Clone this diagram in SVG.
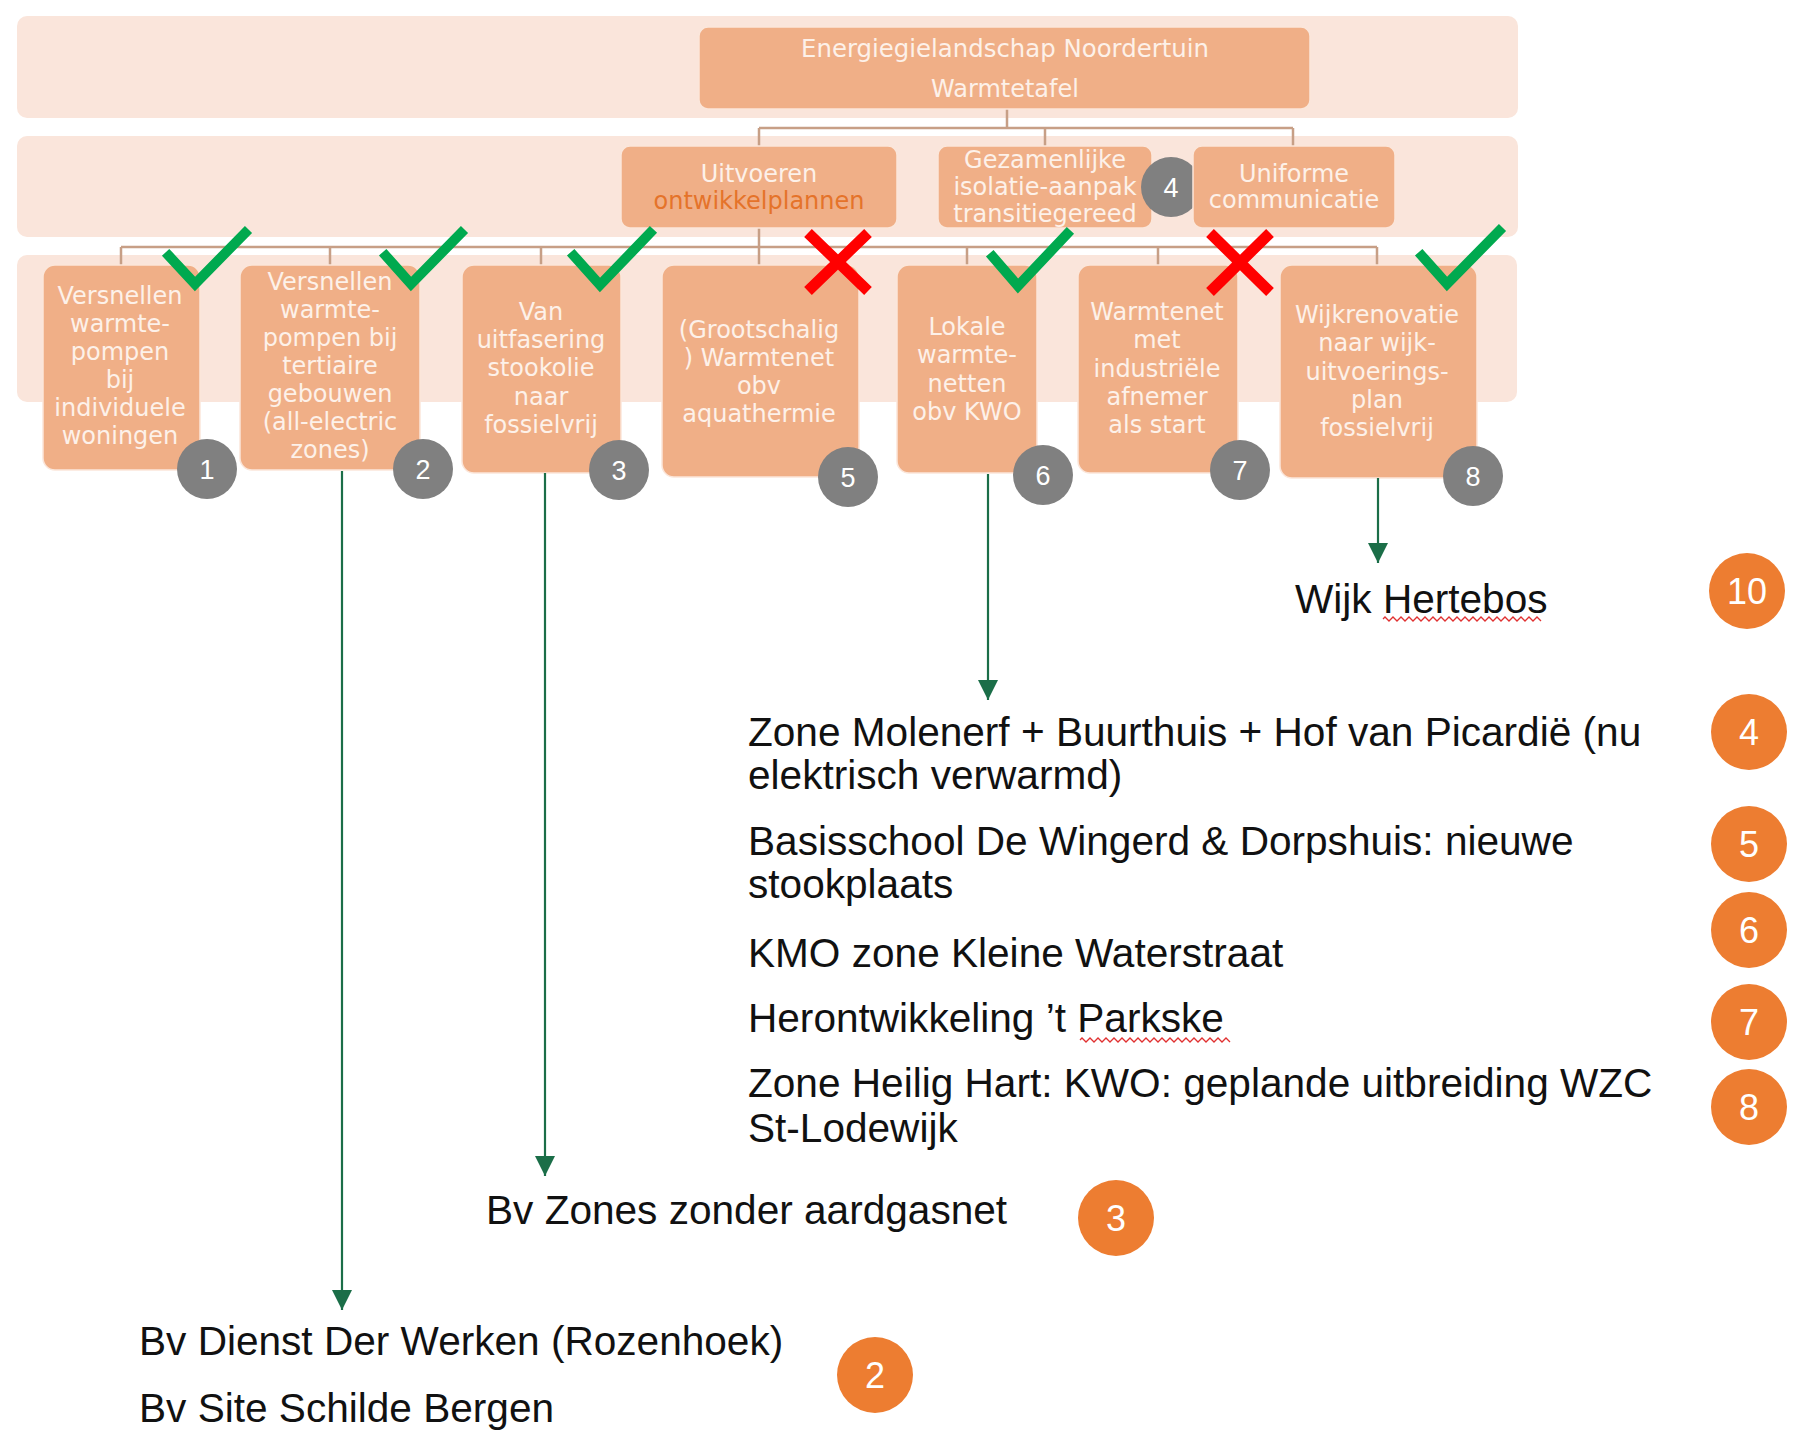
<svg xmlns="http://www.w3.org/2000/svg" width="1796" height="1433" viewBox="0 0 1796 1433">
<defs>
<style>
.band{fill:#FAE5DB}
.box{fill:#F0AF87;stroke:#FBE6DA;stroke-width:1.5}
.bt{font-family:"DejaVu Sans",sans-serif;font-size:24px;fill:#FDF1E9;text-anchor:middle}
.or{fill:#E5732A}
.tree{fill:none;stroke:#C79F86;stroke-width:2.5}
.gb{fill:#808080}
.gbt{font-family:"Liberation Sans",Arial,sans-serif;font-size:27px;fill:#FFFFFF;text-anchor:middle}
.ob{fill:#ED7D31}
.obt{font-family:"Liberation Sans",Arial,sans-serif;font-size:36px;fill:#FFFFFF;text-anchor:middle}
.chk{fill:none;stroke:#00A94F;stroke-width:10;stroke-linecap:square;stroke-linejoin:miter}
.x{fill:none;stroke:#FF0000;stroke-width:11}
.arr{fill:none;stroke:#1B6E48;stroke-width:2.2;marker-end:url(#ah)}
.lt{font-family:"Liberation Sans",Arial,sans-serif;font-size:40.6px;fill:#111111}
.wavy{fill:none;stroke:#E03030;stroke-width:1.3}
</style>
<marker id="ah" markerUnits="userSpaceOnUse" markerWidth="22" markerHeight="22" viewBox="0 0 22 22" refX="20" refY="11" orient="auto">
<path d="M0,1 L20,11 L0,21 Z" fill="#1B6E48"/>
</marker>
</defs>

<g id="bands">
<rect class="band" x="17" y="16" width="1501" height="102" rx="10"/>
<rect class="band" x="17" y="136" width="1501" height="101" rx="10"/>
<rect class="band" x="17" y="255" width="1500" height="147" rx="10"/>
</g>

<g id="tree">
<path class="tree" d="M1007,109 V128 M759,128 H1293 M759,128 V146 M1045,128 V146 M1293,128 V146"/>
<path class="tree" d="M759,228 V247 M121,247 H1377 M121,247 V265 M330,247 V265 M541,247 V265 M759,247 V265 M967,247 V265 M1158,247 V265 M1377,247 V265"/>
</g>

<g id="node-root">
<rect class="box" x="699" y="27" width="611" height="82" rx="9"/>
<text class="bt" x="1005" y="57" style="font-size:24.4px">Energiegielandschap Noordertuin</text>
<text class="bt" x="1005" y="97">Warmtetafel</text>
</g>

<g id="node-uitvoeren">
<rect class="box" x="621" y="146" width="276" height="82" rx="9"/>
<text class="bt" x="759" y="182">Uitvoeren</text>
<text class="bt or" x="759" y="209">ontwikkelplannen</text>
</g>

<g id="node-gezamenlijke">
<rect class="box" x="938" y="146" width="214" height="82" rx="9"/>
<text class="bt" x="1045" y="168">Gezamenlijke</text>
<text class="bt" x="1045" y="195">isolatie-aanpak</text>
<text class="bt" x="1045" y="222">transitiegereed</text>
<circle class="gb" cx="1171" cy="187" r="30"/>
<text class="gbt" x="1171" y="197">4</text>
</g>

<g id="node-uniforme">
<rect class="box" x="1193" y="146" width="202" height="82" rx="9"/>
<text class="bt" x="1294" y="182">Uniforme</text>
<text class="bt" x="1294" y="208">communicatie</text>
</g>

<g id="node-1">
<rect class="box" x="43" y="265" width="157" height="205" rx="12"/>
<text class="bt" x="120" y="304">Versnellen</text>
<text class="bt" x="120" y="332">warmte-</text>
<text class="bt" x="120" y="360">pompen</text>
<text class="bt" x="120" y="388">bij</text>
<text class="bt" x="120" y="416">individuele</text>
<text class="bt" x="120" y="444">woningen</text>
<circle class="gb" cx="207" cy="469" r="30"/>
<text class="gbt" x="207" y="479">1</text>
<polyline class="chk" points="169,256 195,284 245,233"/>
</g>

<g id="node-2">
<rect class="box" x="240" y="265" width="180" height="205" rx="12"/>
<text class="bt" x="330" y="290">Versnellen</text>
<text class="bt" x="330" y="318">warmte-</text>
<text class="bt" x="330" y="346">pompen bij</text>
<text class="bt" x="330" y="374">tertiaire</text>
<text class="bt" x="330" y="402">gebouwen</text>
<text class="bt" x="330" y="430">(all-electric</text>
<text class="bt" x="330" y="458">zones)</text>
<circle class="gb" cx="423" cy="469" r="30"/>
<text class="gbt" x="423" y="479">2</text>
<polyline class="chk" points="386,256 411,284 461,233"/>
</g>

<g id="node-3">
<rect class="box" x="462" y="265" width="159" height="208" rx="12"/>
<text class="bt" x="541" y="320">Van</text>
<text class="bt" x="541" y="348">uitfasering</text>
<text class="bt" x="541" y="376">stookolie</text>
<text class="bt" x="541" y="405">naar</text>
<text class="bt" x="541" y="433">fossielvrij</text>
<circle class="gb" cx="619" cy="470" r="30"/>
<text class="gbt" x="619" y="480">3</text>
<polyline class="chk" points="574,256 600,285 650,233"/>
</g>

<g id="node-5">
<rect class="box" x="662" y="265" width="197" height="212" rx="12"/>
<text class="bt" x="759" y="338">(Grootschalig</text>
<text class="bt" x="759" y="366">) Warmtenet</text>
<text class="bt" x="759" y="394">obv</text>
<text class="bt" x="759" y="422">aquathermie</text>
<circle class="gb" cx="848" cy="477" r="30"/>
<text class="gbt" x="848" y="487">5</text>
<path class="x" d="M808,233 L868,291 M868,233 L808,291"/>
</g>

<g id="node-6">
<rect class="box" x="897" y="265" width="140" height="208" rx="12"/>
<text class="bt" x="967" y="335">Lokale</text>
<text class="bt" x="967" y="363">warmte-</text>
<text class="bt" x="967" y="392">netten</text>
<text class="bt" x="967" y="420">obv KWO</text>
<circle class="gb" cx="1043" cy="475" r="30"/>
<text class="gbt" x="1043" y="485">6</text>
<polyline class="chk" points="993,257 1018,286 1067,234"/>
</g>

<g id="node-7">
<rect class="box" x="1078" y="265" width="160" height="208" rx="12"/>
<text class="bt" x="1157" y="320">Warmtenet</text>
<text class="bt" x="1157" y="348">met</text>
<text class="bt" x="1157" y="377">industriële</text>
<text class="bt" x="1157" y="405">afnemer</text>
<text class="bt" x="1157" y="433">als start</text>
<circle class="gb" cx="1240" cy="470" r="30"/>
<text class="gbt" x="1240" y="480">7</text>
<path class="x" d="M1210,233 L1270,292 M1270,233 L1210,292"/>
</g>

<g id="node-8">
<rect class="box" x="1280" y="265" width="197" height="213" rx="12"/>
<text class="bt" x="1377" y="323">Wijkrenovatie</text>
<text class="bt" x="1377" y="351">naar wijk-</text>
<text class="bt" x="1377" y="380">uitvoerings-</text>
<text class="bt" x="1377" y="408">plan</text>
<text class="bt" x="1377" y="436">fossielvrij</text>
<circle class="gb" cx="1473" cy="476" r="30"/>
<text class="gbt" x="1473" y="486">8</text>
<polyline class="chk" points="1422,256 1447,284 1499,231"/>
</g>

<g id="connectors">
<line class="arr" x1="342" y1="471" x2="342" y2="1310"/>
<line class="arr" x1="545" y1="473" x2="545" y2="1176"/>
<line class="arr" x1="988" y1="474" x2="988" y2="700"/>
<line class="arr" x1="1378" y1="478" x2="1378" y2="563"/>
</g>

<g id="label-hertebos">
<text class="lt" x="1295" y="613">Wijk Hertebos</text>
<path class="wavy" d="M1383,619 l2,-2 l2,2 l2,2 l2,-2 l2,-2 l2,2 l2,2 l2,-2 l2,-2 l2,2 l2,2 l2,-2 l2,-2 l2,2 l2,2 l2,-2 l2,-2 l2,2 l2,2 l2,-2 l2,-2 l2,2 l2,2 l2,-2 l2,-2 l2,2 l2,2 l2,-2 l2,-2 l2,2 l2,2 l2,-2 l2,-2 l2,2 l2,2 l2,-2 l2,-2 l2,2 l2,2 l2,-2 l2,-2 l2,2 l2,2 l2,-2 l2,-2 l2,2 l2,2 l2,-2 l2,-2 l2,2 l2,2 l2,-2 l2,-2 l2,2 l2,2 l2,-2 l2,-2 l2,2 l2,2 l2,-2 l2,-2 l2,2 l2,2 l2,-2 l2,-2 l2,2 l2,2 l2,-2 l2,-2 l2,2 l2,2 l2,-2 l2,-2 l2,2 l2,2 l2,-2 l2,-2 l2,2 l2,2"/>
<circle class="ob" cx="1747" cy="591" r="38"/>
<text class="obt" x="1747" y="604">10</text>
</g>

<g id="label-4">
<text class="lt" x="748" y="746">Zone Molenerf + Buurthuis + Hof van Picardië (nu</text>
<text class="lt" x="748" y="789">elektrisch verwarmd)</text>
<circle class="ob" cx="1749" cy="732" r="38"/>
<text class="obt" x="1749" y="745">4</text>
</g>

<g id="label-5">
<text class="lt" x="748" y="855">Basisschool De Wingerd &amp; Dorpshuis: nieuwe</text>
<text class="lt" x="748" y="898">stookplaats</text>
<circle class="ob" cx="1749" cy="844" r="38"/>
<text class="obt" x="1749" y="857">5</text>
</g>

<g id="label-6">
<text class="lt" x="748" y="967">KMO zone Kleine Waterstraat</text>
<circle class="ob" cx="1749" cy="930" r="38"/>
<text class="obt" x="1749" y="943">6</text>
</g>

<g id="label-7">
<text class="lt" x="748" y="1032">Herontwikkeling ’t Parkske</text>
<path class="wavy" d="M1080,1040 l2,-2 l2,2 l2,2 l2,-2 l2,-2 l2,2 l2,2 l2,-2 l2,-2 l2,2 l2,2 l2,-2 l2,-2 l2,2 l2,2 l2,-2 l2,-2 l2,2 l2,2 l2,-2 l2,-2 l2,2 l2,2 l2,-2 l2,-2 l2,2 l2,2 l2,-2 l2,-2 l2,2 l2,2 l2,-2 l2,-2 l2,2 l2,2 l2,-2 l2,-2 l2,2 l2,2 l2,-2 l2,-2 l2,2 l2,2 l2,-2 l2,-2 l2,2 l2,2 l2,-2 l2,-2 l2,2 l2,2 l2,-2 l2,-2 l2,2 l2,2 l2,-2 l2,-2 l2,2 l2,2 l2,-2 l2,-2 l2,2 l2,2 l2,-2 l2,-2 l2,2 l2,2 l2,-2 l2,-2 l2,2 l2,2 l2,-2 l2,-2 l2,2 l2,2"/>
<circle class="ob" cx="1749" cy="1022" r="38"/>
<text class="obt" x="1749" y="1035">7</text>
</g>

<g id="label-8">
<text class="lt" x="748" y="1097">Zone Heilig Hart: KWO: geplande uitbreiding WZC</text>
<text class="lt" x="748" y="1142">St-Lodewijk</text>
<circle class="ob" cx="1749" cy="1107" r="38"/>
<text class="obt" x="1749" y="1120">8</text>
</g>

<g id="label-3">
<text class="lt" x="486" y="1224">Bv Zones zonder aardgasnet</text>
<circle class="ob" cx="1116" cy="1218" r="38"/>
<text class="obt" x="1116" y="1231">3</text>
</g>

<g id="label-2">
<text class="lt" x="139" y="1355">Bv Dienst Der Werken (Rozenhoek)</text>
<text class="lt" x="139" y="1422">Bv Site Schilde Bergen</text>
<circle class="ob" cx="875" cy="1375" r="38"/>
<text class="obt" x="875" y="1388">2</text>
</g>
</svg>
